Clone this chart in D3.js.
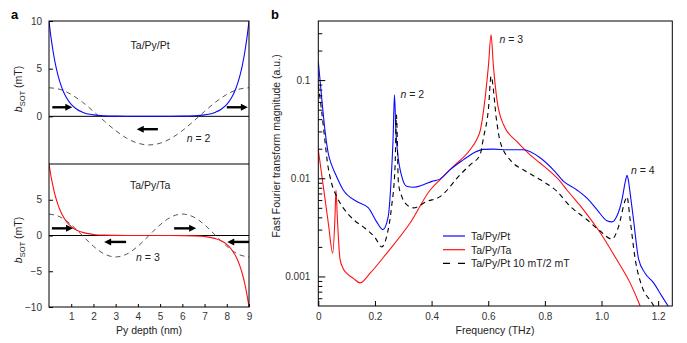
<!DOCTYPE html>
<html lang="en">
  <head>
    <meta charset="UTF-8" />
    <title>bSOT profiles and FFT spectra</title>
    <script src="https://d3js.org/d3.v7.min.js"></script>
    <style>
      html,
      body {
        margin: 0;
        background: #fff;
        font-family: "Liberation Sans", Arial, sans-serif;
      }
      svg {
        display: block;
      }
      .tick text {
        font-size: 10px;
        fill: #333;
        font-family: "Liberation Sans", Arial, sans-serif;
      }
      .tick line {
        stroke: #000;
      }
      .label {
        font-size: 10.5px;
        fill: #222;
      }
      .panel {
        font-size: 13px;
        font-weight: bold;
      }
    </style>
  </head>
  <body>
    <svg id="fig" width="687" height="343"></svg>

    <script>
      // ---- panel a data (Py depth in nm, bSOT in mT) ----
      const depth = [0, 0.1, 0.2, 0.3, 0.4, 0.5, 0.6, 0.8, 1, 1.25, 1.5, 2, 2.5, 3, 3.5, 4, 4.5, 5, 5.5, 6, 6.5, 7, 7.5, 7.75, 8, 8.2, 8.4, 8.5, 8.6, 8.7, 8.8, 8.9, 9];
      const bsotPt = [10, 8.12, 6.59, 5.35, 4.35, 3.53, 2.87, 1.89, 1.25, 0.74, 0.44, 0.15, 0.05, 0.02, 0.01, 0, 0, 0, 0.01, 0.02, 0.05, 0.15, 0.44, 0.74, 1.25, 1.89, 2.87, 3.53, 4.35, 5.35, 6.59, 8.12, 10];
      const bsotTa = [10, 8.12, 6.59, 5.35, 4.35, 3.53, 2.87, 1.89, 1.25, 0.74, 0.44, 0.15, 0.05, 0.02, 0.01, 0, 0, 0, -0.01, -0.02, -0.05, -0.15, -0.44, -0.74, -1.25, -1.89, -2.87, -3.53, -4.35, -5.35, -6.59, -8.12, -10];
      const depthMode = [0, 0.5, 1, 1.5, 2, 2.5, 3, 3.5, 4, 4.5, 5, 5.5, 6, 6.5, 7, 7.5, 8, 8.5, 9];
      const modeN2 = [3, 2.82, 2.3, 1.5, 0.52, -0.52, -1.5, -2.3, -2.82, -3, -2.82, -2.3, -1.5, -0.52, 0.52, 1.5, 2.3, 2.82, 3];
      const modeN3 = [3, 2.6, 1.5, 0, -1.5, -2.6, -3, -2.6, -1.5, 0, 1.5, 2.6, 3, 2.6, 1.5, 0, -1.5, -2.6, -3];

      // arrows: [from depth, to depth, bSOT]
      const arrowsPt = [[0.15, 1.05, 0.95], [4.9, 3.95, -1.35], [8.0, 8.95, 0.95]];
      const arrowsTa = [[0.13, 1.08, 1.0], [3.47, 2.48, -0.9], [5.63, 6.62, 1.0], [9.0, 8.02, -0.9]];

      const depthTicks = [1, 2, 3, 4, 5, 6, 7, 8, 9];
      const bTicksTop = [0, 5, 10];
      const bTicksBottom = [-10, -5, 0, 5];

      // ---- panel b data (frequency in THz, FFT magnitude in a.u.) ----
      const freqPt = [0, 0.012, 0.024, 0.035, 0.047, 0.059, 0.088, 0.136, 0.177, 0.206, 0.228, 0.247, 0.259, 0.264, 0.269, 0.274, 0.279, 0.295, 0.312, 0.336, 0.371, 0.401, 0.43, 0.465, 0.512, 0.548, 0.583, 0.62, 0.666, 0.724, 0.783, 0.83, 0.866, 0.913, 0.948, 0.984, 1.019, 1.037, 1.054, 1.072, 1.085, 1.09, 1.095, 1.101, 1.113, 1.131, 1.154, 1.184, 1.213, 1.237];
      const magPt = [0.155, 0.0656, 0.03, 0.018, 0.0137, 0.0113, 0.0076, 0.0058, 0.005, 0.0036, 0.003, 0.0041, 0.0122, 0.025, 0.071, 0.03, 0.0195, 0.0104, 0.0083, 0.0081, 0.0086, 0.0093, 0.0098, 0.0122, 0.0154, 0.0181, 0.0197, 0.0198, 0.0195, 0.0195, 0.0162, 0.0122, 0.0093, 0.0076, 0.0063, 0.0048, 0.0037, 0.0036, 0.0041, 0.006, 0.0095, 0.0107, 0.0095, 0.0071, 0.0038, 0.0015, 0.00108, 0.00086, 0.00063, 0.00049];

      const freqTa = [0, 0.0177, 0.0353, 0.051, 0.059, 0.0625, 0.067, 0.0767, 0.088, 0.1, 0.125, 0.147, 0.183, 0.242, 0.324, 0.395, 0.43, 0.477, 0.536, 0.56, 0.571, 0.589, 0.601, 0.61, 0.618, 0.63, 0.654, 0.701, 0.748, 0.783, 0.819, 0.854, 0.878, 0.936, 0.995, 1.054, 1.101, 1.134, 1.14];
      const magTa = [0.0195, 0.0083, 0.0035, 0.00173, 0.0041, 0.0076, 0.0041, 0.0015, 0.0012, 0.00108, 0.00095, 0.00086, 0.00108, 0.00173, 0.0035, 0.0076, 0.0097, 0.0132, 0.0195, 0.025, 0.03, 0.0656, 0.143, 0.289, 0.143, 0.0656, 0.0351, 0.0237, 0.0173, 0.0143, 0.0117, 0.0093, 0.0076, 0.0048, 0.0028, 0.00148, 0.00086, 0.00052, 0.00047];

      const freqField = [0, 0.012, 0.0237, 0.0318, 0.047, 0.065, 0.088, 0.124, 0.165, 0.2, 0.224, 0.242, 0.259, 0.271, 0.276, 0.283, 0.295, 0.312, 0.336, 0.383, 0.43, 0.501, 0.536, 0.571, 0.583, 0.601, 0.61, 0.63, 0.642, 0.683, 0.724, 0.783, 0.842, 0.889, 0.948, 0.995, 1.037, 1.06, 1.084, 1.09, 1.101, 1.119, 1.143, 1.178, 1.19];
      const magField = [0.0895, 0.0479, 0.0237, 0.0148, 0.0089, 0.0065, 0.005, 0.0038, 0.0031, 0.0025, 0.002, 0.0026, 0.0052, 0.0132, 0.044, 0.0089, 0.0065, 0.0054, 0.005, 0.0058, 0.0065, 0.0109, 0.0137, 0.0173, 0.0256, 0.0519, 0.109, 0.0379, 0.0237, 0.0148, 0.0122, 0.0097, 0.0074, 0.0052, 0.0038, 0.0029, 0.0024, 0.0032, 0.006, 0.0065, 0.0038, 0.0015, 0.00079, 0.00054, 0.00047];

      const freqTicks = [0, 0.2, 0.4, 0.6, 0.8, 1.0, 1.2];
      const magMajor = [0.001, 0.01, 0.1];
      const magMinor = [0.0006, 0.0007, 0.0008, 0.0009, 0.002, 0.003, 0.004, 0.005, 0.006, 0.007, 0.008, 0.009, 0.02, 0.03, 0.04, 0.05, 0.06, 0.07, 0.08, 0.09, 0.2, 0.3];

      const seriesNames = ["Ta/Py/Pt", "Ta/Py/Ta", "Ta/Py/Pt 10 mT/2 mT"];

      const BLUE = "#0a0aff";
      const RED = "#ff1010";

      const svg = d3.select("#fig");

      // ================= panel a =================
      const xA = d3.scaleLinear().domain([0, 9]).range([49, 249]);
      const yTop = d3.scaleLinear().domain([-5, 10]).range([164, 21]);
      const yBot = d3.scaleLinear().domain([-10, 10]).range([307, 164]);

      svg.append("clipPath").attr("id", "clipTop")
        .append("rect").attr("x", 49).attr("y", 21).attr("width", 200).attr("height", 143);
      svg.append("clipPath").attr("id", "clipBot")
        .append("rect").attr("x", 49).attr("y", 164).attr("width", 200).attr("height", 143);

      function drawPanelA(yScale, clipId, solid, solidColor, mode, arrows, ticks, title, modeLabel, titleB, modeAt) {
        const g = svg.append("g");

        // zero line
        g.append("line")
          .attr("x1", xA(0)).attr("x2", xA(9))
          .attr("y1", yScale(0)).attr("y2", yScale(0))
          .attr("stroke", "#000").attr("stroke-width", 1);

        const line = d3.line()
          .x((d) => xA(d[0]))
          .y((d) => yScale(d[1]))
          .curve(d3.curveMonotoneX);

        const inner = g.append("g").attr("clip-path", `url(#${clipId})`);

        inner.append("path")
          .datum(depthMode.map((x, i) => [x, mode[i]]))
          .attr("d", line)
          .attr("fill", "none")
          .attr("stroke", "#555")
          .attr("stroke-width", 1)
          .attr("stroke-dasharray", "5,4");

        inner.append("path")
          .datum(depth.map((x, i) => [x, solid[i]]))
          .attr("d", line)
          .attr("fill", "none")
          .attr("stroke", solidColor)
          .attr("stroke-width", 1.1);

        // spin current arrows
        arrows.forEach((a) => {
          const x1 = xA(a[0]), x2 = xA(a[1]), y = yScale(a[2]);
          const dir = Math.sign(x2 - x1);
          g.append("line")
            .attr("x1", x1).attr("x2", x2 - dir * 5)
            .attr("y1", y).attr("y2", y)
            .attr("stroke", "#000").attr("stroke-width", 2.4);
          g.append("path")
            .attr("d", `M${x2},${y} L${x2 - dir * 7},${y - 3.5} L${x2 - dir * 7},${y + 3.5} Z`)
            .attr("fill", "#000");
        });

        g.append("g")
          .attr("transform", "translate(49,0)")
          .call(d3.axisLeft(yScale).tickValues(ticks).tickSize(-4).tickPadding(7))
          .call((s) => s.select(".domain").remove());

        g.append("text")
          .attr("class", "label")
          .attr("x", xA(4.55)).attr("y", yScale(titleB))
          .attr("text-anchor", "middle")
          .text(title);

        const t = g.append("text")
          .attr("class", "label")
          .attr("x", xA(modeAt[0])).attr("y", yScale(modeAt[1]));
        t.append("tspan").attr("font-style", "italic").text("n");
        t.append("tspan").text(" = " + modeLabel);
      }

      drawPanelA(yTop, "clipTop", bsotPt, BLUE, modeN2, arrowsPt, bTicksTop, "Ta/Py/Pt", "2", 7.06, [6.2, -2.64]);
      drawPanelA(yBot, "clipBot", bsotTa, RED, modeN3, arrowsTa, bTicksBottom, "Ta/Py/Ta", "3", 6.5, [3.92, -3.57]);

      // x axis of panel a
      svg.append("g")
        .attr("transform", "translate(0,307)")
        .call(d3.axisBottom(xA).tickValues(depthTicks).tickSize(-3).tickPadding(6))
        .call((s) => s.select(".domain").remove());

      // frame and divider
      svg.append("rect")
        .attr("x", 49).attr("y", 21).attr("width", 200).attr("height", 286)
        .attr("fill", "none").attr("stroke", "#000").attr("stroke-width", 1);
      svg.append("line")
        .attr("x1", 49).attr("x2", 249).attr("y1", 164).attr("y2", 164)
        .attr("stroke", "#000").attr("stroke-width", 1);

      // y labels for panel a
      [89, 240].forEach((cy) => {
        const t = svg.append("text")
          .attr("class", "label")
          .attr("transform", `translate(22,${cy}) rotate(-90)`)
          .attr("text-anchor", "middle");
        t.append("tspan").attr("font-style", "italic").text("b");
        t.append("tspan").attr("font-size", "7.5px").attr("dy", 3).text("SOT");
        t.append("tspan").attr("dy", -3).text(" (mT)");
      });

      svg.append("text")
        .attr("class", "label")
        .attr("x", xA(4.5)).attr("y", 334)
        .attr("text-anchor", "middle")
        .text("Py depth (nm)");

      svg.append("text").attr("class", "panel").attr("x", 11).attr("y", 19).text("a");

      // ================= panel b =================
      const xB = d3.scaleLinear().domain([0, 1.25]).range([318.3, 672.3]);
      const yB = d3.scaleLog().domain([0.0005, 0.4]).range([306, 21]);

      svg.append("clipPath").attr("id", "clipB")
        .append("rect").attr("x", 318.3).attr("y", 21).attr("width", 354).attr("height", 285);

      const lineB = d3.line()
        .x((d) => xB(d[0]))
        .y((d) => yB(d[1]))
        .curve(d3.curveMonotoneX);

      const gb = svg.append("g").attr("clip-path", "url(#clipB)");

      gb.append("path")
        .datum(freqTa.map((f, i) => [f, magTa[i]]))
        .attr("d", lineB)
        .attr("fill", "none").attr("stroke", RED).attr("stroke-width", 1.1);

      gb.append("path")
        .datum(freqPt.map((f, i) => [f, magPt[i]]))
        .attr("d", lineB)
        .attr("fill", "none").attr("stroke", BLUE).attr("stroke-width", 1.1);

      gb.append("path")
        .datum(freqField.map((f, i) => [f, magField[i]]))
        .attr("d", lineB)
        .attr("fill", "none").attr("stroke", "#000").attr("stroke-width", 1.1)
        .attr("stroke-dasharray", "5,4");

      // axes
      svg.append("g")
        .attr("transform", "translate(318.3,0)")
        .call(d3.axisLeft(yB).tickValues(magMinor).tickSize(-4).tickFormat(""))
        .call((s) => s.select(".domain").remove());
      svg.append("g")
        .attr("transform", "translate(318.3,0)")
        .call(d3.axisLeft(yB).tickValues(magMajor).tickSize(-7).tickPadding(8).tickFormat(d3.format("")))
        .call((s) => s.select(".domain").remove());
      svg.append("g")
        .attr("transform", "translate(0,306)")
        .call(d3.axisBottom(xB).tickValues(freqTicks).tickSize(-5).tickPadding(7)
          .tickFormat((d) => (d === 0 ? "0" : d3.format(".1f")(d))))
        .call((s) => s.select(".domain").remove());

      svg.append("rect")
        .attr("x", 318.3).attr("y", 21).attr("width", 354).attr("height", 285)
        .attr("fill", "none").attr("stroke", "#000").attr("stroke-width", 1);

      // mode labels
      [[0.29, 0.066, "2"], [0.64, 0.24, "3"], [1.104, 0.0111, "4"]].forEach((m) => {
        const t = svg.append("text").attr("class", "label")
          .attr("x", xB(m[0])).attr("y", yB(m[1]));
        t.append("tspan").attr("font-style", "italic").text("n");
        t.append("tspan").text(" = " + m[2]);
      });

      // legend
      const legend = svg.append("g").attr("transform", "translate(443,236)");
      const legendStyles = [
        { color: BLUE, dash: null },
        { color: RED, dash: null },
        { color: "#000", dash: "7,8" },
      ];
      seriesNames.forEach((name, i) => {
        const row = legend.append("g").attr("transform", `translate(0,${i * 13.7})`);
        row.append("line")
          .attr("x1", 0).attr("x2", 22).attr("y1", 0).attr("y2", 0)
          .attr("stroke", legendStyles[i].color).attr("stroke-width", 1.2)
          .attr("stroke-dasharray", legendStyles[i].dash);
        row.append("text").attr("class", "label")
          .attr("x", 28).attr("y", 4)
          .text(name);
      });

      svg.append("text")
        .attr("class", "label")
        .attr("transform", "translate(280,146) rotate(-90)")
        .attr("text-anchor", "middle")
        .text("Fast Fourier transform magnitude (a.u.)");

      svg.append("text")
        .attr("class", "label")
        .attr("x", 495).attr("y", 334)
        .attr("text-anchor", "middle")
        .text("Frequency (THz)");

      svg.append("text").attr("class", "panel").attr("x", 271).attr("y", 19).text("b");
    </script>
  </body>
</html>
